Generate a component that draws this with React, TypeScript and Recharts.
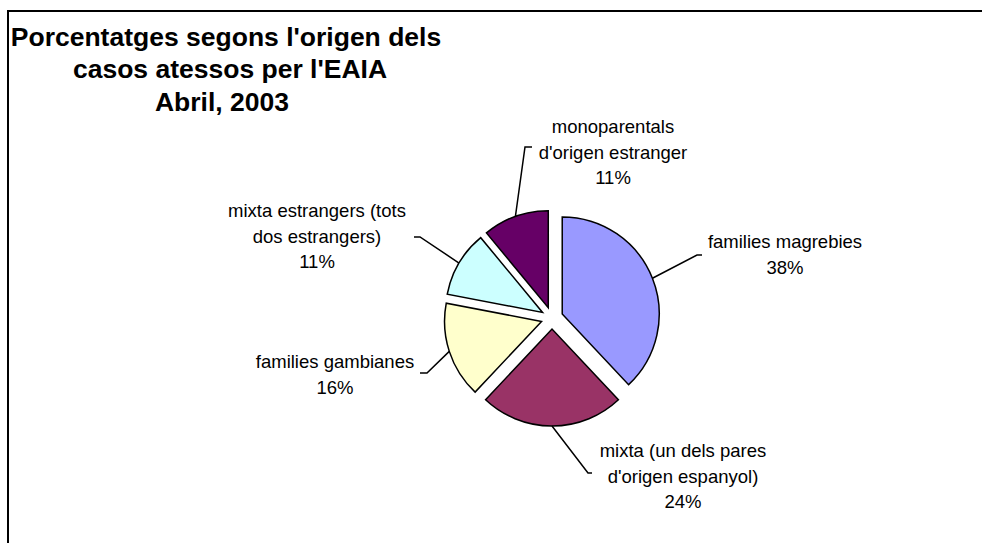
import React from "react";
import { PieChart, Pie, Cell, Sector } from "recharts";

const categories = [
  "families magrebies",
  "mixta (un dels pares d'origen espanyol)",
  "families gambianes",
  "mixta estrangers (tots dos estrangers)",
  "monoparentals d'origen estranger",
];
const percents = [38, 24, 16, 11, 11];
const labelLines = [
  ["families magrebies"],
  ["mixta (un dels pares", "d'origen espanyol)"],
  ["families gambianes"],
  ["mixta estrangers (tots", "dos estrangers)"],
  ["monoparentals", "d'origen estranger"],
];
const titleLines = ["Porcentatges segons l'origen dels", "casos atessos per l'EAIA", "Abril, 2003"];

const COLORS = ["#9999FF", "#993366", "#FFFFCC", "#CCFFFF", "#660066"];
const FONT = "'Liberation Sans', Arial, Helvetica, sans-serif";
const RAD = Math.PI / 180;
const EXPLODE = 11;

// label placement relative to pie centre (text centre x, first baseline y, elbow, tail)
const LABEL_POS = [
  { tx: 233, ty: -70, ex: 145, ey: -63, tail: 5 },
  { tx: 131, ty: 139, ex: 36, ey: 155, tail: 4 },
  { tx: -217, ty: 50, ex: -125, ey: 55, tail: -7 },
  { tx: -235, ty: -101, ex: -132, ey: -81, tail: -6 },
  { tx: 61, ty: -185, ex: -27, ey: -171, tail: 7 },
];

const data = categories.map((name, i) => ({ name, value: percents[i] }));

const ExplodedSlice = (props: any) => {
  const { cx, cy, midAngle } = props;
  const dx = EXPLODE * Math.cos(-midAngle * RAD);
  const dy = EXPLODE * Math.sin(-midAngle * RAD);
  return <Sector {...props} cx={cx + dx} cy={cy + dy} />;
};

const renderLabel = (props: any) => {
  const { cx, cy, midAngle, outerRadius, index, percent } = props;
  const p = LABEL_POS[index];
  const r = outerRadius + EXPLODE;
  const sx = cx + r * Math.cos(-midAngle * RAD);
  const sy = cy + r * Math.sin(-midAngle * RAD);
  const ex = cx + p.ex;
  const ey = cy + p.ey;
  const lines = [...labelLines[index], `${Math.round(percent * 100)}%`];
  return (
    <g key={`lbl-${index}`}>
      <polyline
        points={`${sx},${sy} ${ex},${ey} ${ex + p.tail},${ey}`}
        fill="none"
        stroke="#000"
        strokeWidth={1.5}
      />
      <text
        x={cx + p.tx}
        y={cy + p.ty}
        textAnchor="middle"
        fontFamily={FONT}
        fontSize={18.5}
        fill="#000"
      >
        {lines.map((l, i) => (
          <tspan key={i} x={cx + p.tx} dy={i === 0 ? 0 : 25.5}>
            {l}
          </tspan>
        ))}
      </text>
    </g>
  );
};

export default function App() {
  return (
    <div style={{ position: "absolute", left: 0, top: 0, width: 982, height: 543, background: "#fff", overflow: "hidden" }}>
      <div
        style={{
          position: "absolute",
          left: 7,
          top: 10,
          width: 975,
          height: 533,
          borderTop: "2px solid #000",
          borderLeft: "2px solid #000",
        }}
      />
      <div style={{ position: "absolute", left: 0, top: 0 }}>
        <PieChart width={982} height={543} margin={{ top: 0, right: 0, bottom: 0, left: 0 }}>
          <text fontFamily={FONT} fontSize={26.5} fontWeight="bold" fill="#000" textAnchor="middle">
            <tspan x={226} y={46}>{titleLines[0]}</tspan>
            <tspan x={230} y={78}>{titleLines[1]}</tspan>
            <tspan x={222} y={111}>{titleLines[2]}</tspan>
          </text>
          <Pie
            data={data}
            dataKey="value"
            nameKey="name"
            cx={552}
            cy={318}
            outerRadius={97}
            startAngle={90}
            endAngle={-270}
            stroke="#000"
            strokeWidth={1.5}
            shape={ExplodedSlice}
            label={renderLabel}
            labelLine={false}
            isAnimationActive={false}
          >
            {data.map((entry, index) => (
              <Cell key={`cell-${index}`} fill={COLORS[index % COLORS.length]} />
            ))}
          </Pie>
        </PieChart>
      </div>
    </div>
  );
}
